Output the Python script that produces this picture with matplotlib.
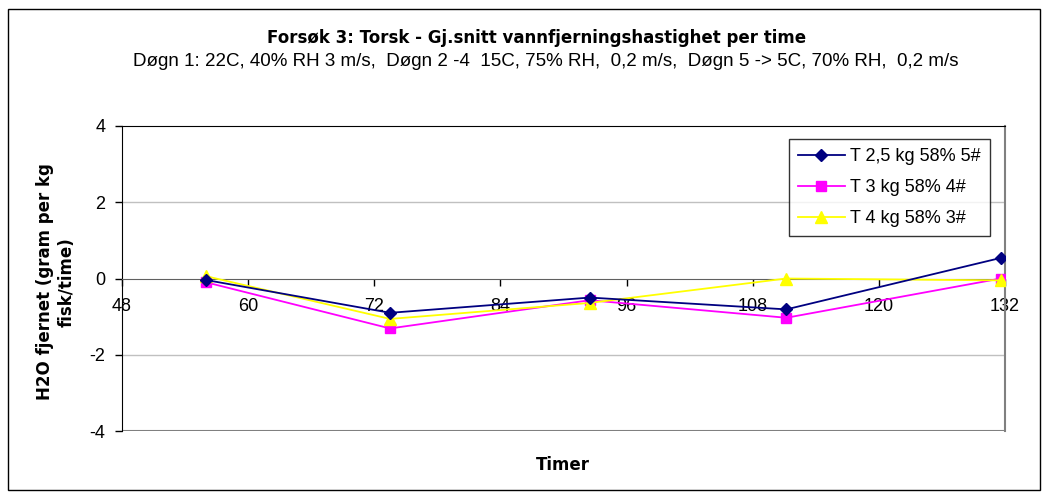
import matplotlib
matplotlib.use("Agg")
import matplotlib.pyplot as plt
from matplotlib.patches import Rectangle

plt.rcParams['font.family'] = ['Liberation Sans', 'DejaVu Sans']

timer = [56, 73.5, 92.5, 111.2, 131.6]
series_names = ["T 2,5 kg 58% 5#", "T 3 kg 58% 4#", "T 4 kg 58% 3#"]
t25 = [-0.04, -0.90, -0.50, -0.81, 0.54]
t3 = [-0.10, -1.31, -0.57, -1.03, 0.0]
t4 = [0.06, -1.06, -0.64, 0.0, -0.05]
x_ticks = [48, 60, 72, 84, 96, 108, 120, 132]
y_ticks = [-4, -2, 0, 2, 4]

title = "Forsøk 3: Torsk - Gj.snitt vannfjerningshastighet per time"
subtitle = "Døgn 1: 22C, 40% RH 3 m/s,  Døgn 2 -4  15C, 75% RH,  0,2 m/s,  Døgn 5 -> 5C, 70% RH,  0,2 m/s"

W, H = 1046, 497
fig = plt.figure(figsize=(W / 100, H / 100), dpi=100)
fig.patch.set_facecolor("white")
fig.add_artist(Rectangle((8 / W, 1 - 490 / H), (1040 - 8) / W, (490 - 9) / H,
                         transform=fig.transFigure, fill=False, edgecolor="black", lw=1.0))

ax = fig.add_axes([122 / W, 1 - 431 / H, (1005 - 122) / W, (431 - 126) / H])
ax.set_xlim(48, 132)
ax.set_ylim(-4, 4)

for y in [2, -2]:
    ax.axhline(y, color="#c0c0c0", lw=1.0, zorder=0)
ax.axhline(-4, color="#808080", lw=1.5, zorder=1)

ax.plot(timer, t25, color="#000080", marker="D", markersize=6.5, lw=1.3, label=series_names[0], zorder=4)
ax.plot(timer, t3, color="#FF00FF", marker="s", markersize=7, lw=1.3, label=series_names[1], zorder=3)
ax.plot(timer, t4, color="#FFFF00", marker="^", markersize=8.5, lw=1.3, label=series_names[2], zorder=3)

ax.spines['bottom'].set_position(('data', 0))
ax.spines['bottom'].set_color("#606060")
ax.spines['left'].set_color("black")
ax.spines['top'].set_color("black")
ax.spines['right'].set_color("#808080")
ax.spines['right'].set_linewidth(1.5)

ax.set_xticks(x_ticks)
ax.set_yticks(y_ticks)
ax.set_xticklabels([str(v) for v in x_ticks])
ax.set_yticklabels([str(v) for v in y_ticks])
ax.tick_params(axis='x', direction='out', length=5, width=1, pad=9, labelsize=13, colors="black")
ax.tick_params(axis='y', direction='out', length=5, width=1, pad=7, labelsize=13)

bold_family = ['DejaVu Sans']
fig.text(537 / W, 1 - 38 / H, title, ha="center", va="center", fontsize=12, fontweight="bold",
         family=bold_family)
fig.text(546 / W, 1 - 61 / H, subtitle, ha="center", va="center", fontsize=13.5)
fig.text(563 / W, 1 - 465 / H, "Timer", ha="center", va="center", fontsize=12, fontweight="bold",
         family=bold_family)
fig.text(56 / W, 1 - 282 / H, "H2O fjernet (gram per kg\nfisk/time)", ha="center", va="center",
         rotation=90, fontsize=12, fontweight="bold", linespacing=1.3, family=bold_family)

leg = ax.legend(loc="upper right", bbox_to_anchor=(990 / W, 1 - 139 / H), bbox_transform=fig.transFigure,
                frameon=True, fancybox=False, edgecolor="black", fontsize=13,
                handlelength=2.6, labelspacing=0.78, borderpad=0.5, handletextpad=0.3,
                borderaxespad=0)
leg.get_frame().set_linewidth(1.0)

fig.savefig("out.png", dpi=100)
